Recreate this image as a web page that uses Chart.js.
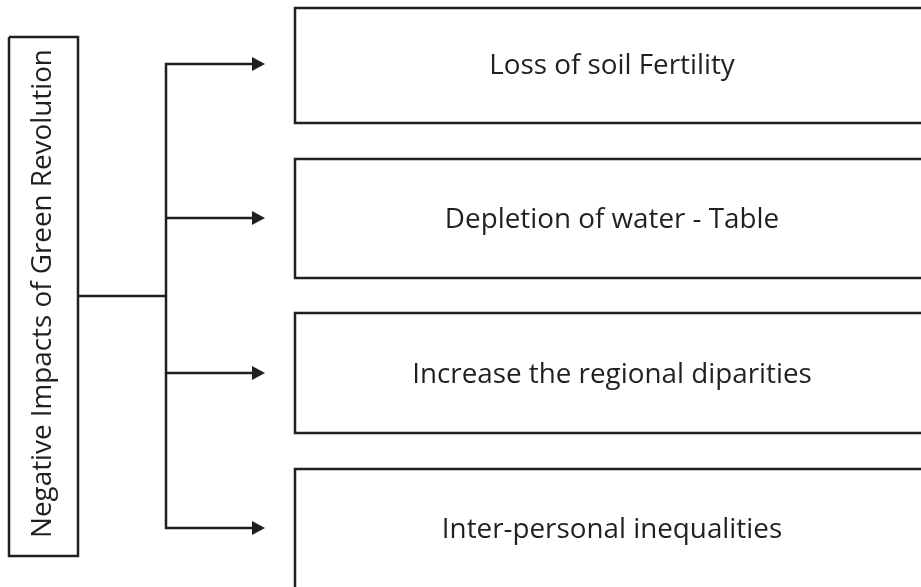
<!DOCTYPE html>
<html>
<head>
<meta charset="utf-8">
<script src="https://cdn.jsdelivr.net/npm/chart.js@4"></script>
<style>
  html, body { margin: 0; padding: 0; background: #fff; }
  #wrap { width: 921px; height: 587px; }
</style>
</head>
<body>
<div id="wrap"><canvas id="flow"></canvas></div>
<script>
// diagram content, in the chart's own units (0..921 across, 0..587 down)
const headLabel = 'Negative Impacts of Green Revolution';
const headX = [9, 78];
const headY = [37, 556];
const stepLabels = ['Loss of soil Fertility', 'Depletion of water - Table', 'Increase the regional diparities', 'Inter-personal inequalities'];
const stepTop = [8, 159, 313, 469];
const stepBottom = [123, 278, 433, 600];
const stepX = [295, 930];
const arrowRow = [64, 218, 373, 528];
const spineX = 166;
const arrowTip = 265;
const forkY = 296;

const ink = '#231f20';
const textFont = '"Open Sans", sans-serif';

function lineSet(points) {
    return {
        data: points,
        showLine: true,
        pointRadius: 0,
        borderColor: ink,
        borderWidth: 2.5,
        borderJoinStyle: 'miter',
        tension: 0,
        fill: false,
        clip: false
    };
}

const datasets = [];
// left title box
datasets.push(lineSet([
    {x: headX[0], y: headY[0]}, {x: headX[1], y: headY[0]},
    {x: headX[1], y: headY[1]}, {x: headX[0], y: headY[1]},
    {x: headX[0], y: headY[0]}
]));
// link from title box to the spine
datasets.push(lineSet([{x: headX[1], y: forkY}, {x: spineX, y: forkY}]));
// spine with first and last arrow shafts
const last = arrowRow.length - 1;
datasets.push(lineSet([
    {x: arrowTip - 11, y: arrowRow[0]}, {x: spineX, y: arrowRow[0]},
    {x: spineX, y: arrowRow[last]}, {x: arrowTip - 11, y: arrowRow[last]}
]));
// middle arrow shafts
arrowRow.slice(1, last).forEach(y => {
    datasets.push(lineSet([{x: spineX, y: y}, {x: arrowTip - 11, y: y}]));
});
// right boxes (open to the right edge)
stepLabels.forEach((_, i) => {
    datasets.push(lineSet([
        {x: stepX[1], y: stepTop[i]}, {x: stepX[0], y: stepTop[i]},
        {x: stepX[0], y: stepBottom[i]}, {x: stepX[1], y: stepBottom[i]}
    ]));
});

const decorations = {
    id: 'decorations',
    afterDatasetsDraw(chart) {
        const {ctx, scales: {x, y}} = chart;
        ctx.save();
        ctx.fillStyle = ink;
        // arrow heads
        arrowRow.forEach(row => {
            const tx = x.getPixelForValue(arrowTip);
            const ty = y.getPixelForValue(row);
            ctx.beginPath();
            ctx.moveTo(tx, ty);
            ctx.lineTo(tx - 13, ty - 7);
            ctx.lineTo(tx - 13, ty + 7);
            ctx.closePath();
            ctx.fill();
        });
        // box texts
        ctx.font = '27.8px ' + textFont;
        ctx.textAlign = 'center';
        ctx.textBaseline = 'alphabetic';
        stepLabels.forEach((label, i) => {
            ctx.fillText(label, x.getPixelForValue(612), y.getPixelForValue(arrowRow[i] + 9.5));
        });
        // rotated title
        ctx.translate(x.getPixelForValue(51), y.getPixelForValue((headY[0] + headY[1]) / 2 - 3));
        ctx.rotate(-Math.PI / 2);
        ctx.fillText(headLabel, 0, 0);
        ctx.restore();
    }
};

new Chart(document.getElementById('flow').getContext('2d'), {
    type: 'scatter',
    data: { datasets: datasets },
    options: {
        responsive: true,
        maintainAspectRatio: false,
        animation: false,
        layout: { padding: 0 },
        plugins: { legend: { display: false }, tooltip: { enabled: false } },
        scales: {
            x: { type: 'linear', min: 0, max: 921, display: false },
            y: { type: 'linear', min: 0, max: 587, reverse: true, display: false }
        }
    },
    plugins: [decorations]
});
</script>
</body>
</html>
